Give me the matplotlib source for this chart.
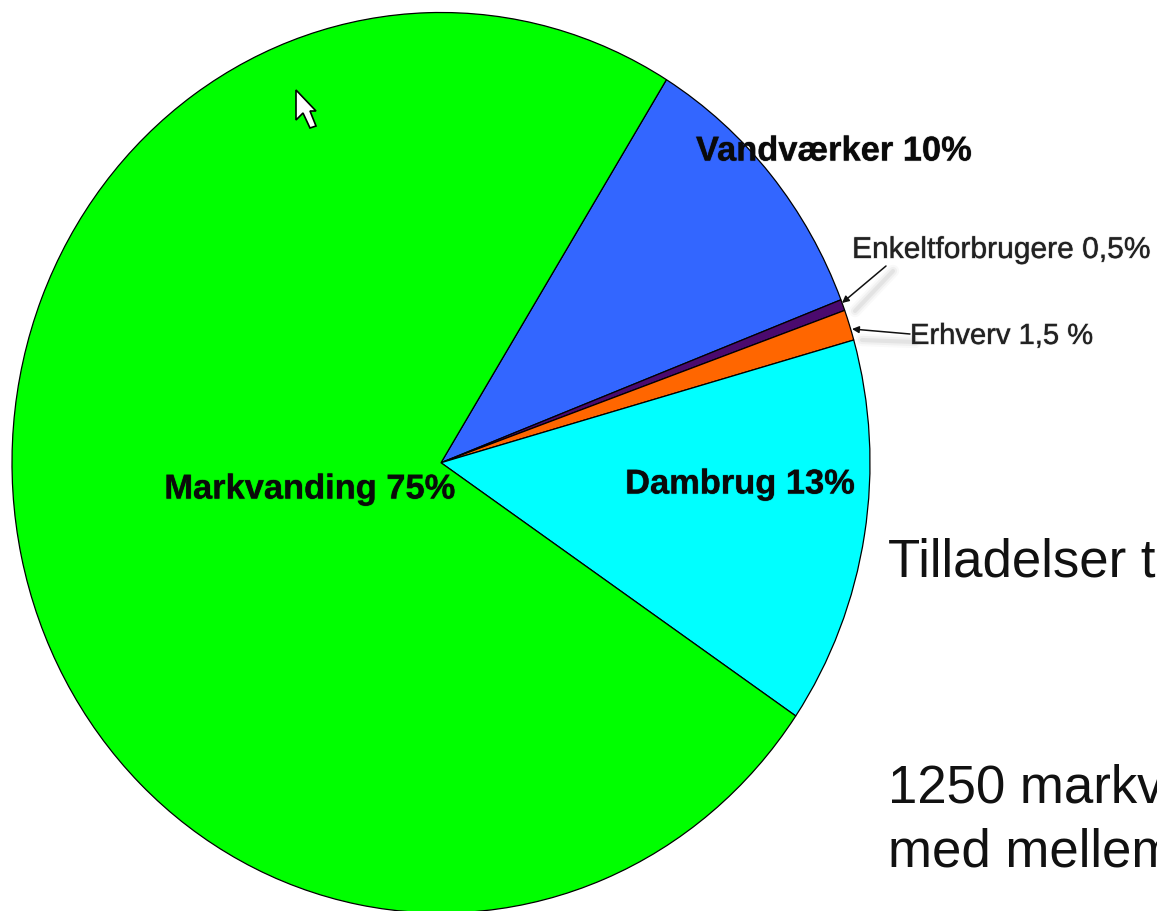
import matplotlib
matplotlib.use("Agg")
import matplotlib.pyplot as plt
import matplotlib.patheffects as pe
from matplotlib.patches import Polygon

W, H = 1157, 912

# Slices clockwise from the Vandvaerker/Markvanding boundary; shares
slice_names = ["Vandværker", "Enkeltforbrugere", "Erhverv", "Dambrug", "Markvanding"]
slice_shares = [10.3, 0.4, 1.1, 13.9, 74.3]
slice_colors = ["#3366ff", "#4b0a6e", "#ff6600", "#00ffff", "#00ff00"]

big_labels = ["Markvanding 75%", "Vandværker 10%", "Dambrug 13%"]
small_labels = ["Enkeltforbrugere 0,5%", "Erhverv 1,5 %"]
side_lines = ["Tilladelser t", "1250 markv", "med mellem"]

plt.rcParams["font.family"] = ["Liberation Sans", "DejaVu Sans"]
fig = plt.figure(figsize=(W / 100, H / 100), dpi=100, facecolor="white")

# Pie axes fills the (slightly elliptical) bounding box of the pie in the picture
left, right, top, bottom = 12, 870, 13.5, 914
pie_ax = fig.add_axes([left / W, 1 - bottom / H, (right - left) / W, (bottom - top) / H])
pie_ax.pie(slice_shares, colors=slice_colors, startangle=58.3, counterclock=False,
           radius=1, wedgeprops=dict(edgecolor="black", linewidth=0.9, clip_on=False))
pie_ax.set_aspect("auto")
pie_ax.set_xlim(-1, 1)
pie_ax.set_ylim(-1, 1)

# Overlay in pixel coordinates for labels, leaders and cursor
ax = fig.add_axes([0, 0, 1, 1], facecolor="none")
ax.set_xlim(0, W)
ax.set_ylim(H, 0)
ax.axis("off")

soft = [pe.withStroke(linewidth=1.0, foreground="#00000030")]
for s, x, y in zip(big_labels, [310, 834, 740], [491, 153, 486]):
    ax.text(x, y, s, fontsize=24.8, fontweight="bold", ha="center", va="center",
            color="#0a0a0a", path_effects=soft, zorder=5)
for s, x, y, fs in zip(small_labels, [852, 910], [251, 337], [21.6, 21.0]):
    ax.text(x, y, s, fontsize=fs, ha="left", va="center", color="#222222",
            path_effects=soft, zorder=6)

# Leader shadows, then leaders
for w, a in [(9, 0.025), (6, 0.035), (3, 0.05)]:
    ax.plot([893, 855], [272, 312], color="black", lw=w, alpha=a, solid_capstyle="round", zorder=3)
    ax.plot([915, 862], [343, 341], color="black", lw=w, alpha=a, solid_capstyle="round", zorder=3)
ax.annotate("", xy=(842, 304), xytext=(886, 267),
            arrowprops=dict(arrowstyle="-|>", lw=1.1, color="#111111", shrinkA=0, shrinkB=0), zorder=6)
ax.annotate("", xy=(852, 330), xytext=(910, 335),
            arrowprops=dict(arrowstyle="-|>", lw=1.1, color="#111111", shrinkA=0, shrinkB=0), zorder=6)

for s, y in zip(side_lines, [563, 789, 853]):
    ax.text(888, y, s, fontsize=38, va="center", ha="left", color="#111111")

# Mouse cursor captured in the screenshot
cursor = [(296, 91), (296, 121), (303, 114), (310, 129), (316, 127), (310, 112), (316, 112)]
ax.add_patch(Polygon(cursor, closed=True, fc="white", ec="black", lw=1.2, zorder=7))

fig.savefig("out.png", dpi=100)
